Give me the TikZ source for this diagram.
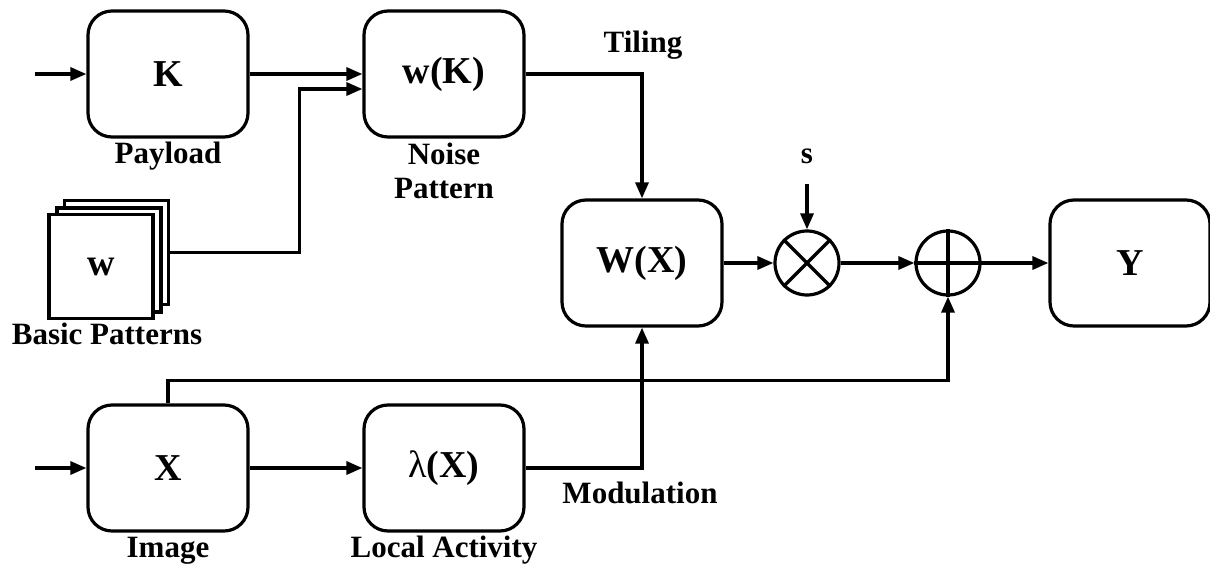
\documentclass[tikz,border=0pt]{standalone}
\usepackage{fontspec}
\setmainfont{Liberation Serif}
\usetikzlibrary{arrows.meta}
\tikzset{>={Triangle[length=16pt,width=13pt]}}
\tikzset{blk/.style={draw, rounded corners=24pt, minimum width=160pt, minimum height=126pt, inner sep=0pt, font=\fontsize{38}{40}\selectfont\bfseries}}
\tikzset{lbl/.style={font=\fontsize{31}{34}\selectfont\bfseries, align=center, inner sep=0pt, anchor=base}}
\tikzset{op/.style={draw, circle, minimum size=64pt, inner sep=0pt}}

\begin{document}
\begin{tikzpicture}[x=1pt, y=-1pt, line width=3.2pt]
    \useasboundingbox (0,0) rectangle (1210,567);
    % blocks
    \node [blk] (K) at (168,74) {K};
    \node [blk] (wK) at (444,74) {w(K)};
    \node [blk] (WX) at (642,263) {W(X)};
    \node [blk] (Y) at (1130,263) {Y};
    \node [blk] (X) at (168,468) {X};
    \node [blk] (lam) at (444,468) {{\mdseries λ}(X)};
    \node [op] (mul) at (807,263) {};
    \node [op] (add) at (948,263) {};
    \draw (mul.north west) -- (mul.south east) (mul.north east) -- (mul.south west);
    \draw (add.north) -- (add.south) (add.west) -- (add.east);
    % stack of basic patterns
    \node [draw, fill=white, minimum size=104pt] (bp3) at (116.5,252.5) {};
    \node [draw, fill=white, minimum size=104pt] (bp2) at (109,260) {};
    \node [draw, fill=white, minimum size=104pt, font=\fontsize{38}{40}\selectfont\bfseries] (bp1) at (101,266.5) {w};
    % labels
    \node [lbl] (payload) at (168,164) {Payload};
    \node [lbl, anchor=north] (noise) at (444,141) {Noise\\Pattern};
    \node [lbl] (basic) at (107,344) {Basic Patterns};
    \node [lbl] (tiling) at (643,53) {Tiling};
    \node [lbl] (s) at (807,164) {s};
    \node [lbl] (image) at (168,557) {Image};
    \node [lbl] (local) at (444,557) {Local Activity};
    \node [lbl] (modul) at (640,503) {Modulation};
    % connectors
    \coordinate (inK) at (35,74);
    \coordinate (inX) at (35,468);
    \coordinate (wKin) at ([yshift=-15pt]wK.west);
    \draw [->] (inK) -- (K);
    \draw [->] (K) -- (wK);
    \draw [->] (bp3.east) -| ([xshift=-63pt]wKin) -- (wKin);
    \draw [->] (wK.east) -| (WX.north);
    \draw [->] (WX) -- (mul);
    \draw [->] ([yshift=-20pt]s.base) -- (mul);
    \draw [->] (mul) -- (add);
    \draw [->] (add) -- (Y);
    \draw [->] (inX) -- (X);
    \draw [->] (X) -- (lam);
    \draw [->] (lam.east) -| (WX.south);
    \draw [->] (X.north) -- ++(0,-23) -| (add.south);
\end{tikzpicture}
\end{document}
